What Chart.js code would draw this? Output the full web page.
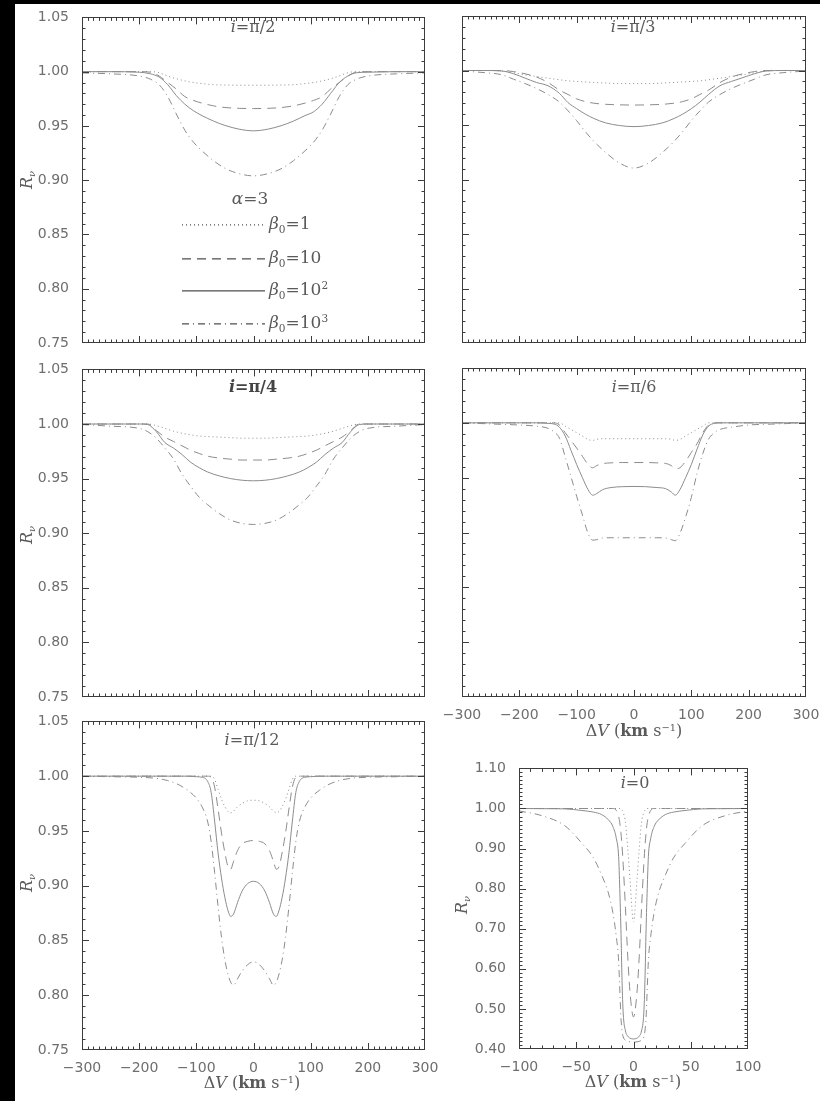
<!DOCTYPE html>
<html>
<head>
<meta charset="utf-8">
<script src="https://cdn.jsdelivr.net/npm/chart.js@4.4.1/dist/chart.umd.min.js"></script>
<style>
  html, body { margin: 0; padding: 0; width: 820px; height: 1101px; overflow: hidden; background: #000; }
  #paper { position: absolute; left: 15px; top: 4px; width: 805px; height: 1097px; background: #fff; }
  canvas { position: absolute; }
  .t { position: absolute; white-space: nowrap; color: #5a5a5a; font-family: "DejaVu Serif", "Liberation Serif", serif; font-size: 16px; line-height: 1; transform: translate(-50%, -50%); }
  .t.left { transform: translate(0, -50%); }
  .t.key { font-size: 17px; }
  .t i { font-style: italic; }
  .t sub, .t sup { font-size: 0.62em; line-height: 0; position: relative; vertical-align: baseline; }
  .t sub { top: 0.35em; }
  .t sup { top: -0.55em; }
  .rot { transform: translate(-50%, -50%) rotate(-90deg); }
</style>
</head>
<body>
<div id="paper"></div>

<canvas id="c1"></canvas>
<canvas id="c2"></canvas>
<canvas id="c3"></canvas>
<canvas id="c4"></canvas>
<canvas id="c5"></canvas>
<canvas id="c6"></canvas>

<div class="t" style="left:253px;top:27px"><i>i</i>=π/2</div>
<div class="t" style="left:633px;top:27px"><i>i</i>=π/3</div>
<div class="t" style="left:253px;top:387px;font-weight:bold;color:#444"><i>i</i>=π/4</div>
<div class="t" style="left:634px;top:387px"><i>i</i>=π/6</div>
<div class="t" style="left:252px;top:740px"><i>i</i>=π/12</div>
<div class="t" style="left:635px;top:783px"><i>i</i>=0</div>

<div class="t key" style="left:250px;top:198px"><i>α</i>=3</div>
<div class="t key left" style="left:269px;top:223px"><i>β</i><sub>0</sub>=1</div>
<div class="t key left" style="left:269px;top:257px"><i>β</i><sub>0</sub>=10</div>
<div class="t key left" style="left:269px;top:289px"><i>β</i><sub>0</sub>=10<sup>2</sup></div>
<div class="t key left" style="left:269px;top:322px"><i>β</i><sub>0</sub>=10<sup>3</sup></div>

<div class="t rot" style="left:27px;top:180px"><i>R</i><sub><i>ν</i></sub></div>
<div class="t rot" style="left:27px;top:535px"><i>R</i><sub><i>ν</i></sub></div>
<div class="t rot" style="left:27px;top:883px"><i>R</i><sub><i>ν</i></sub></div>
<div class="t rot" style="left:462px;top:905px"><i>R</i><sub><i>ν</i></sub></div>

<div class="t" style="left:634px;top:731px">Δ<i>V</i> (<b>km</b> s<sup>−1</sup>)</div>
<div class="t" style="left:252px;top:1083px">Δ<i>V</i> (<b>km</b> s<sup>−1</sup>)</div>
<div class="t" style="left:633px;top:1082px">Δ<i>V</i> (<b>km</b> s<sup>−1</sup>)</div>

<script>
// velocity grids (km/s) and R_nu curves
// order of series: beta0 = 1 (dotted), 10 (dashed), 10^2 (solid), 10^3 (dash-dot)

// i = pi/2
const p1V = [-300,-250,-200,-180,-165,-150,-135,-120,-105,-90,-70,-50,-25,0,25,50,70,90,105,120,135,150,165,180,200,250,300];
const p1Dot = [1.000,1.000,1.000,1.000,0.999,0.996,0.9935,0.9915,0.990,0.989,0.988,0.9877,0.9875,0.9875,0.9875,0.9877,0.988,0.989,0.990,0.9915,0.9935,0.996,0.999,1.000,1.000,1.000,1.000];
const p1Dash = [1.000,1.000,1.000,0.9995,0.996,0.990,0.984,0.977,0.9735,0.971,0.9685,0.967,0.9662,0.966,0.9662,0.967,0.9685,0.971,0.9735,0.977,0.984,0.990,0.996,0.9995,1.000,1.000,1.000];
const p1Solid = [1.000,1.000,0.9995,0.998,0.995,0.988,0.978,0.970,0.964,0.9595,0.9545,0.9505,0.947,0.9455,0.947,0.9505,0.9545,0.9595,0.963,0.970,0.980,0.990,0.996,0.999,0.9995,1.000,1.000];
const p1DashDot = [0.9988,0.998,0.996,0.993,0.988,0.977,0.961,0.946,0.935,0.927,0.918,0.911,0.906,0.904,0.906,0.911,0.918,0.927,0.935,0.946,0.961,0.977,0.988,0.993,0.996,0.998,0.9988];

// i = pi/3
const p2V = [-300,-260,-230,-210,-190,-170,-150,-130,-115,-100,-85,-70,-50,-25,0,25,50,70,85,100,115,130,150,170,190,210,230,260,300];
const p2Dot = [1.000,1.000,0.9995,0.998,0.996,0.9945,0.993,0.9915,0.9905,0.990,0.9895,0.989,0.9885,0.988,0.988,0.988,0.9885,0.989,0.9895,0.990,0.9905,0.9915,0.993,0.9945,0.996,0.998,0.9995,1.000,1.000];
const p2Dash = [1.000,1.000,1.000,0.999,0.997,0.994,0.989,0.982,0.978,0.974,0.9715,0.970,0.969,0.9685,0.9683,0.9685,0.969,0.970,0.9715,0.974,0.978,0.982,0.989,0.994,0.997,0.999,1.000,1.000,1.000];
const p2Solid = [1.000,1.000,0.9995,0.997,0.993,0.989,0.986,0.979,0.9705,0.965,0.960,0.956,0.952,0.9495,0.9485,0.9495,0.952,0.956,0.960,0.965,0.971,0.978,0.986,0.990,0.9935,0.997,0.9995,1.000,1.000];
const p2DashDot = [0.9995,0.998,0.996,0.992,0.988,0.9835,0.978,0.971,0.963,0.954,0.944,0.935,0.925,0.915,0.9105,0.915,0.925,0.935,0.944,0.954,0.963,0.971,0.978,0.9835,0.988,0.992,0.996,0.998,0.9995];

// i = pi/4
const p3V = [-300,-250,-200,-185,-170,-155,-140,-125,-110,-95,-80,-60,-40,-20,0,20,40,60,80,95,110,125,140,155,170,185,200,250,300];
const p3Dot = [1.000,1.000,1.000,1.000,0.9985,0.996,0.9935,0.9915,0.990,0.989,0.9885,0.988,0.9875,0.987,0.987,0.987,0.9875,0.988,0.9885,0.989,0.990,0.9915,0.9935,0.996,0.9985,1.000,1.000,1.000,1.000];
const p3Dash = [1.000,1.000,1.000,1.000,0.994,0.988,0.984,0.980,0.976,0.973,0.9705,0.9688,0.9678,0.967,0.967,0.967,0.9678,0.9688,0.9705,0.973,0.976,0.980,0.984,0.988,0.994,1.000,1.000,1.000,1.000];
const p3Solid = [1.000,1.000,1.000,0.9995,0.993,0.983,0.978,0.972,0.965,0.960,0.956,0.9525,0.950,0.9485,0.948,0.9485,0.950,0.9525,0.956,0.960,0.965,0.972,0.978,0.983,0.993,0.9995,1.000,1.000,1.000];
const p3DashDot = [0.9995,0.998,0.996,0.993,0.987,0.978,0.968,0.954,0.943,0.933,0.926,0.918,0.912,0.909,0.908,0.909,0.912,0.918,0.926,0.933,0.943,0.954,0.968,0.978,0.987,0.993,0.996,0.998,0.9995];

// i = pi/6
const p4V = [-300,-250,-200,-170,-150,-140,-130,-120,-110,-100,-90,-80,-72,-65,-55,-40,-20,0,20,40,55,65,72,80,90,100,110,120,130,140,150,170,200,250,300];
const p4Dot = [1.000,1.000,1.000,1.000,1.000,1.000,1.000,0.997,0.994,0.991,0.988,0.9848,0.984,0.985,0.9855,0.9855,0.9855,0.9855,0.9855,0.9855,0.9855,0.985,0.984,0.9848,0.988,0.991,0.994,0.997,1.000,1.000,1.000,1.000,1.000,1.000,1.000];
const p4Dash = [1.000,1.000,1.000,1.000,1.000,1.000,0.998,0.991,0.984,0.977,0.9695,0.962,0.959,0.961,0.9628,0.9635,0.9638,0.9638,0.9638,0.9635,0.963,0.961,0.958,0.959,0.965,0.973,0.981,0.991,0.998,1.000,1.000,1.000,1.000,1.000,1.000];
const p4Solid = [1.000,1.000,1.000,1.000,0.9995,0.999,0.996,0.988,0.975,0.962,0.950,0.939,0.934,0.9355,0.939,0.941,0.9418,0.942,0.9418,0.941,0.940,0.937,0.934,0.939,0.950,0.962,0.976,0.989,0.997,0.9995,1.000,1.000,1.000,1.000,1.000];
const p4DashDot = [1.000,0.999,0.998,0.997,0.995,0.992,0.986,0.969,0.951,0.933,0.916,0.899,0.893,0.8935,0.895,0.8952,0.8952,0.8952,0.8952,0.8952,0.895,0.8935,0.8925,0.899,0.914,0.932,0.954,0.972,0.985,0.991,0.994,0.996,0.998,0.999,1.000];

// i = pi/12
const p5V = [-300,-250,-200,-170,-150,-130,-115,-100,-90,-80,-74,-68,-62,-56,-50,-45,-40,-35,-28,-20,-10,0,10,20,28,35,40,45,50,56,62,68,74,80,90,100,115,130,150,170,200,250,300];
const p5Dot = [1,1,1,1,1,1,1,1,1,1,1,0.997,0.988,0.979,0.972,0.968,0.9665,0.968,0.972,0.975,0.9775,0.978,0.9775,0.975,0.972,0.968,0.9665,0.968,0.972,0.979,0.988,0.997,1,1,1,1,1,1,1,1,1,1,1];
const p5Dash = [1,1,1,1,1,1,1,1,1,1,0.999,0.990,0.970,0.948,0.930,0.918,0.915,0.922,0.932,0.9382,0.9405,0.9413,0.9405,0.9382,0.932,0.922,0.915,0.918,0.930,0.948,0.970,0.990,0.999,1,1,1,1,1,1,1,1,1,1];
const p5Solid = [1,1,1,1,1,1,1,0.9995,0.999,0.995,0.985,0.959,0.930,0.907,0.889,0.878,0.872,0.874,0.8845,0.895,0.902,0.904,0.902,0.895,0.8845,0.874,0.872,0.878,0.889,0.907,0.930,0.959,0.985,0.995,0.999,0.9995,1,1,1,1,1,1,1];
const p5DashDot = [1.000,0.9995,0.999,0.998,0.996,0.992,0.987,0.980,0.972,0.958,0.940,0.912,0.881,0.853,0.832,0.820,0.812,0.809,0.815,0.822,0.828,0.8306,0.828,0.822,0.815,0.809,0.812,0.820,0.832,0.853,0.881,0.912,0.940,0.958,0.972,0.980,0.987,0.992,0.996,0.998,0.999,0.9995,1.000];

// i = 0
const p6V = [-100,-80,-60,-45,-35,-28,-22,-18,-15,-13,-12,-11,-10,-9,-7,-5,-3,0,3,5,7,9,10,11,12,13,15,18,22,28,35,45,60,80,100];
const p6Dot = [1,1,1,1,1,1,1,1,1,1,1.000,0.999,0.996,0.990,0.965,0.900,0.820,0.717,0.820,0.900,0.965,0.990,0.996,0.999,1.000,1,1,1,1,1,1,1,1,1,1];
const p6Dash = [1,1,1,1,1,1,1,1,0.995,0.980,0.965,0.940,0.905,0.860,0.750,0.630,0.540,0.480,0.540,0.630,0.750,0.860,0.905,0.940,0.965,0.980,0.995,1,1,1,1,1,1,1,1];
const p6Solid = [1.000,0.9995,0.999,0.995,0.991,0.985,0.972,0.955,0.925,0.880,0.800,0.700,0.570,0.490,0.445,0.432,0.427,0.425,0.427,0.432,0.445,0.490,0.570,0.700,0.800,0.880,0.925,0.955,0.972,0.985,0.991,0.995,0.999,0.9995,1.000];
const p6DashDot = [0.994,0.982,0.957,0.913,0.877,0.835,0.790,0.740,0.680,0.620,0.550,0.480,0.445,0.430,0.422,0.419,0.418,0.417,0.418,0.419,0.422,0.430,0.445,0.480,0.550,0.620,0.680,0.740,0.790,0.835,0.877,0.913,0.957,0.982,0.994];

const curveColor = '#8c8c8c';
const dashes = [[1, 3], [9, 6], [], [7, 4, 1, 4]];

// frame with inward major/minor ticks on all four sides, plus the key in the first panel
const frameTicks = {
  id: 'frameTicks',
  afterDraw(chart, args, o) {
    const { ctx, chartArea: a, scales: { x, y } } = chart;
    ctx.save();
    ctx.strokeStyle = '#3c3c3c';
    ctx.lineWidth = 1;
    ctx.setLineDash([]);
    ctx.strokeRect(Math.round(a.left) + 0.5, Math.round(a.top) + 0.5,
      Math.round(a.right - a.left) - 1, Math.round(a.bottom - a.top) - 1);
    ctx.beginPath();
    let n = Math.round((o.xMax - o.xMin) / o.xMinor);
    let every = Math.round(o.xMajor / o.xMinor);
    for (let k = 1; k < n; k++) {
      const px = Math.round(x.getPixelForValue(o.xMin + k * o.xMinor)) + 0.5;
      const len = k % every === 0 ? 7 : 3.5;
      ctx.moveTo(px, a.bottom); ctx.lineTo(px, a.bottom - len);
      ctx.moveTo(px, a.top); ctx.lineTo(px, a.top + len);
    }
    n = Math.round((o.yMax - o.yMin) / o.yMinor);
    every = Math.round(o.yMajor / o.yMinor);
    for (let k = 1; k < n; k++) {
      const py = Math.round(y.getPixelForValue(o.yMin + k * o.yMinor)) + 0.5;
      const len = k % every === 0 ? 7 : 3.5;
      ctx.moveTo(a.left, py); ctx.lineTo(a.left + len, py);
      ctx.moveTo(a.right, py); ctx.lineTo(a.right - len, py);
    }
    ctx.stroke();

    if (o.key) {
      ctx.strokeStyle = '#222';
      const rows = [207, 241, 273, 306];
      rows.forEach((dy, i) => {
        ctx.setLineDash(dashes[i]);
        ctx.beginPath();
        ctx.moveTo(a.left + 100, a.top + dy + 0.5);
        ctx.lineTo(a.left + 183, a.top + dy + 0.5);
        ctx.stroke();
      });
    }
    ctx.restore();
  }
};

const fmtX = v => v < 0 ? '\u2212' + Math.abs(v) : String(v);

function panel(id, frame, xs, series, ax) {
  const padL = 70, padT = 12, padR = 16, padB = 45;
  const fw = frame.r - frame.l, fh = frame.b - frame.t;
  const cv = document.getElementById(id);
  cv.width = fw + padL + padR;
  cv.height = fh + padT + padB;
  cv.style.left = (frame.l - padL) + 'px';
  cv.style.top = (frame.t - padT) + 'px';
  cv.style.width = cv.width + 'px';
  cv.style.height = cv.height + 'px';

  const datasets = series.map((s, i) => ({
    data: xs.map((v, j) => ({ x: v, y: s[j] })),
    borderColor: curveColor,
    borderWidth: 1,
    borderDash: dashes[i],
    pointRadius: 0,
    fill: false,
    cubicInterpolationMode: 'monotone'
  }));

  const tickFont = { family: 'DejaVu Sans', size: 14 };
  return new Chart(cv, {
    type: 'line',
    data: { datasets },
    options: {
      responsive: false,
      animation: false,
      events: [],
      layout: { padding: { left: 0, top: padT, right: padR, bottom: 0 } },
      plugins: {
        legend: { display: false },
        tooltip: { enabled: false },
        frameTicks: ax
      },
      scales: {
        x: {
          type: 'linear', min: ax.xMin, max: ax.xMax,
          grid: { display: false }, border: { display: false },
          afterFit: s => { s.height = padB; },
          ticks: { display: !!ax.xLabels, stepSize: ax.xMajor, autoSkip: false, maxRotation: 0,
                   padding: 2, color: '#6e6e6e', font: tickFont, callback: fmtX }
        },
        y: {
          type: 'linear', min: ax.yMin, max: ax.yMax,
          grid: { display: false }, border: { display: false },
          afterFit: s => { s.width = padL; },
          ticks: { display: !!ax.yLabels, stepSize: ax.yMajor, autoSkip: false,
                   padding: 5, color: '#6e6e6e', font: tickFont,
                   callback: v => v.toFixed(2) }
        }
      }
    },
    plugins: [frameTicks]
  });
}

const wide = { xMin: -300, xMax: 300, xMajor: 100, xMinor: 10, yMin: 0.75, yMax: 1.05, yMajor: 0.05, yMinor: 0.01 };

panel('c1', { l: 82, r: 425, t: 16, b: 343 }, p1V, [p1Dot, p1Dash, p1Solid, p1DashDot],
  Object.assign({}, wide, { yLabels: true, key: true }));
panel('c2', { l: 462, r: 806, t: 16, b: 343 }, p2V, [p2Dot, p2Dash, p2Solid, p2DashDot],
  Object.assign({}, wide));
panel('c3', { l: 82, r: 425, t: 368, b: 697 }, p3V, [p3Dot, p3Dash, p3Solid, p3DashDot],
  Object.assign({}, wide, { yLabels: true }));
panel('c4', { l: 462, r: 806, t: 368, b: 697 }, p4V, [p4Dot, p4Dash, p4Solid, p4DashDot],
  Object.assign({}, wide, { xLabels: true }));
panel('c5', { l: 82, r: 425, t: 720, b: 1050 }, p5V, [p5Dot, p5Dash, p5Solid, p5DashDot],
  Object.assign({}, wide, { xLabels: true, yLabels: true }));
panel('c6', { l: 519, r: 748, t: 767, b: 1049 }, p6V, [p6Dot, p6Dash, p6Solid, p6DashDot],
  { xMin: -100, xMax: 100, xMajor: 50, xMinor: 10, yMin: 0.40, yMax: 1.10, yMajor: 0.10, yMinor: 0.01,
    xLabels: true, yLabels: true });
</script>
</body>
</html>
